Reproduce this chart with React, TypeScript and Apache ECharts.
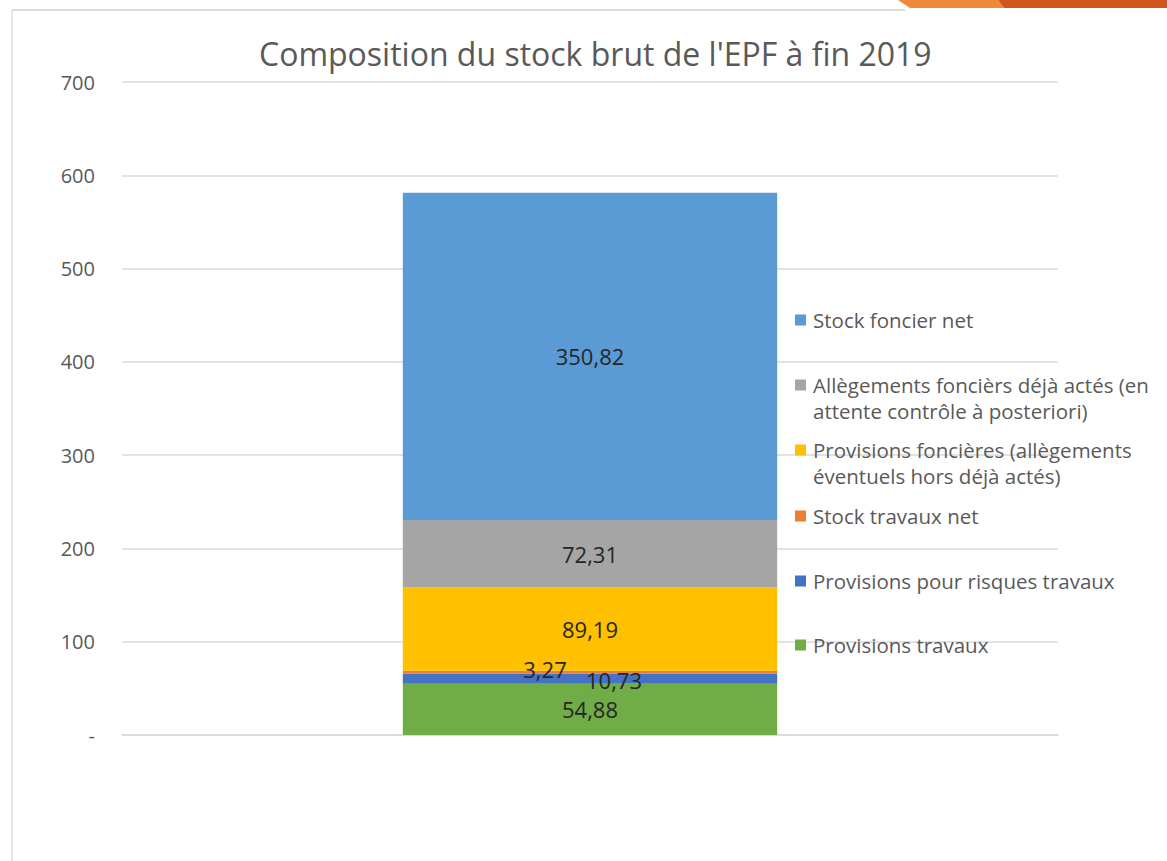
import React, { useEffect, useRef } from "react";
import * as echarts from "echarts";

const categories = ["2019"];
const seriesNames = [
  "Provisions travaux",
  "Provisions pour risques travaux",
  "Stock travaux net",
  "Provisions foncières (allègements\néventuels hors déjà actés)",
  "Allègements foncièrs déjà actés (en\nattente contrôle à posteriori)",
  "Stock foncier net",
];
const seriesValues = [54.88, 10.73, 3.27, 89.19, 72.31, 350.82];
const seriesColors = ["#70AD47", "#4472C4", "#ED7D31", "#FFC000", "#A5A5A5", "#5B9BD5"];
const yTicks = [0, 100, 200, 300, 400, 500, 600, 700];
// first-line centre of each legend entry
const legendCentres = [645, 581, 516, 450, 385, 320];
const labelOffsets: [number, number][] = [[0, 0], [24, 1], [-45, -3], [0, 0], [0, 0], [0, 0]];

const FONT = "'Open Sans', Lato, sans-serif";
const LH = 26;

export default function App() {
  const ref = useRef<HTMLDivElement>(null);
  useEffect(() => {
    if (!ref.current) return;
    const chart = echarts.init(ref.current, null, { renderer: "svg" });
    const series = seriesNames.map((name, i) => ({
      name,
      type: "bar",
      stack: "total",
      barWidth: "40%",
      data: [seriesValues[i]],
      itemStyle: { color: seriesColors[i] },
      label: {
        show: true,
        position: "inside",
        offset: labelOffsets[i],
        color: "#262626",
        fontSize: 22,
        fontFamily: FONT,
        formatter: (p: any) => String(p.value).replace(".", ","),
      },
    }));
    const legends = seriesNames.map((name, i) => {
      const lines = name.split("\n").length;
      const h = lines * LH;
      const top0 = LH / 2 - 5.5;
      const icon = `path://M0,${top0}H11V${top0 + 11}H0Z M0,0H0.01V0.01H0Z M0,${h - 0.01}H0.01V${h}H0Z`;
      return {
        data: [name],
        left: 795,
        top: legendCentres[i] - LH / 2,
        padding: 0,
        orient: "vertical",
        icon,
        itemWidth: 11,
        itemHeight: h,
        itemGap: 0,
        selectedMode: false,
        textStyle: {
          color: "#595959",
          fontSize: 20.5,
          fontFamily: FONT,
          lineHeight: LH,
          padding: [0, 0, 0, 2],
        },
      };
    });
    chart.setOption({
      animation: false,
      backgroundColor: "#ffffff",
      title: {
        text: "Composition du stock brut de l'EPF à fin 2019",
        left: 254,
        top: 32,
        textStyle: { color: "#595959", fontSize: 32, fontWeight: "normal", fontFamily: FONT },
      },
      legend: legends,
      grid: { left: 122, right: 109, top: 82, bottom: 126, containLabel: false },
      xAxis: {
        type: "category",
        data: categories,
        axisLine: { show: true, lineStyle: { color: "#d9d9d9", width: 1.5 } },
        axisTick: { show: false },
        axisLabel: { show: false },
      },
      yAxis: {
        type: "value",
        min: yTicks[0],
        max: yTicks[yTicks.length - 1],
        interval: 100,
        axisLine: { show: false },
        axisTick: { show: false },
        splitLine: { lineStyle: { color: "#d9d9d9", width: 1.5 } },
        axisLabel: {
          color: "#595959",
          fontSize: 20,
          fontFamily: FONT,
          margin: 27,
          formatter: (v: number) => (v === 0 ? "-" : String(v)),
        },
      },
      series,
      graphic: [
        { type: "line", shape: { x1: 12, y1: 10, x2: 905, y2: 10 }, style: { stroke: "#dcdcdc", lineWidth: 2 } },
        { type: "line", shape: { x1: 12, y1: 10, x2: 12, y2: 861 }, style: { stroke: "#dcdcdc", lineWidth: 1.5 } },
        { type: "polygon", shape: { points: [[898, 0], [998, 0], [1004, 8], [910, 8]] }, style: { fill: "#F0883A" } },
        { type: "polygon", shape: { points: [[998, 0], [1167, 0], [1167, 8], [1004, 8]] }, style: { fill: "#D0561C" } },
      ],
    });
    return () => chart.dispose();
  }, []);
  return (
    <div
      ref={ref}
      style={{ position: "absolute", left: 0, top: 0, width: 1167, height: 861, background: "#fff" }}
    />
  );
}
